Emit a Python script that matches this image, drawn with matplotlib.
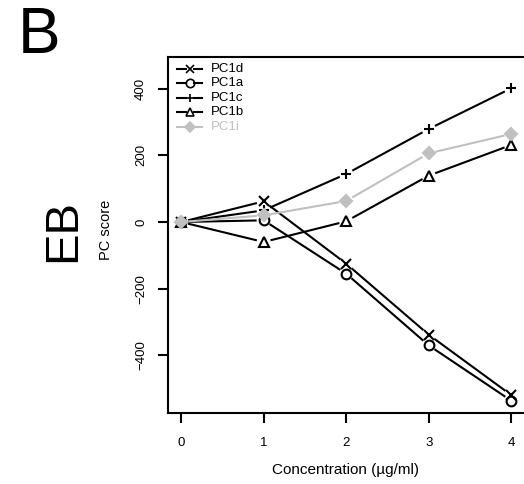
import numpy as np
import matplotlib
matplotlib.use('Agg')
import matplotlib.pyplot as plt

plt.rcParams['font.family'] = ['Liberation Sans', 'DejaVu Sans']

conc = [0, 1, 2, 3, 4]
pc1d = [0, 62, -125, -338, -519]
pc1a = [0, 5, -155, -370, -536]
pc1c = [0, 35, 144, 279, 401]
pc1b = [0, -60, 2, 139, 231]
pc1i = [0, 20, 63, 206, 264]

series = [
  ('PC1d', pc1d, 'x', 'black', 'none'),
  ('PC1a', pc1a, 'o', 'black', 'none'),
  ('PC1c', pc1c, '+', 'black', 'none'),
  ('PC1b', pc1b, '^', 'black', 'none'),
  ('PC1i', pc1i, 'D', '#c0c0c0', '#c0c0c0'),
]

W, H = 524, 484
fig = plt.figure(figsize=(W/100, H/100), dpi=100)
ax = fig.add_axes([168/W, 1-413/H, (526-168)/W, (413-57)/H])
ax.set_xlim(-0.16, 4.18)
ax.set_ylim(-573, 495)

gap = 7  # px gap around markers, like R type="b"

def gapped(x, y):
  pts = ax.transData.transform(np.column_stack([x, y]))
  inv = ax.transData.inverted()
  segs = []
  for p0, p1 in zip(pts[:-1], pts[1:]):
    d = p1 - p0
    L = np.hypot(*d)
    if L <= 2*gap:
      continue
    u = d/L
    segs.append(inv.transform(np.array([p0 + u*gap, p1 - u*gap])))
  return segs

for name, vals, mk, col, fc in series:
  for s in gapped(conc, vals):
    ax.plot(s[:, 0], s[:, 1], color=col, lw=1.5, solid_capstyle='butt')
  ms = 6 if mk == 'D' else 7
  ax.plot(conc, vals, linestyle='none', marker=mk, ms=ms, mec=col, mfc=fc, mew=1.5)

# legend (drawn as R-style handles)
for i, (name, vals, mk, col, fc) in enumerate(series):
  yy = 1 - (69 + i*14.4)/H
  fig.add_artist(plt.Line2D([177/W, 186/W], [yy, yy], color=col, lw=1.5, transform=fig.transFigure))
  fig.add_artist(plt.Line2D([194/W, 202/W], [yy, yy], color=col, lw=1.5, transform=fig.transFigure))
  fig.add_artist(plt.Line2D([190/W], [yy], marker=mk, ms=5 if mk == 'D' else 6, mec=col, mfc=fc, mew=1.2,
                            linestyle='none', transform=fig.transFigure))
  fig.text(211/W, yy, name, color=col, fontsize=9.5, va='center', ha='left')

ax.spines['right'].set_visible(False)
for sp in ['left', 'top', 'bottom']:
  ax.spines[sp].set_linewidth(1.5)
ax.set_xticks(conc)
ax.set_yticks([-400, -200, 0, 200, 400])
ax.set_yticklabels(['\u2212400', '\u2212200', '0', '200', '400'], rotation=90, va='center')
ax.tick_params(direction='out', length=7, width=1.5, labelsize=9.5, pad=10)
ax.tick_params(axis='y', pad=8)

fig.text(346/W, 1-470/H, 'Concentration (\u00b5g/ml)', fontsize=11, ha='center', va='center')
fig.text(106/W, 1-230/H, 'PC score', fontsize=10.5, rotation=90, ha='center', va='center')
fig.text(63/W, 1-230/H, 'EB', fontsize=34, rotation=90, ha='center', va='center')
fig.text(39/W, 1-36/H, 'B', fontsize=46, ha='center', va='center')

fig.savefig('out.png', dpi=100)
